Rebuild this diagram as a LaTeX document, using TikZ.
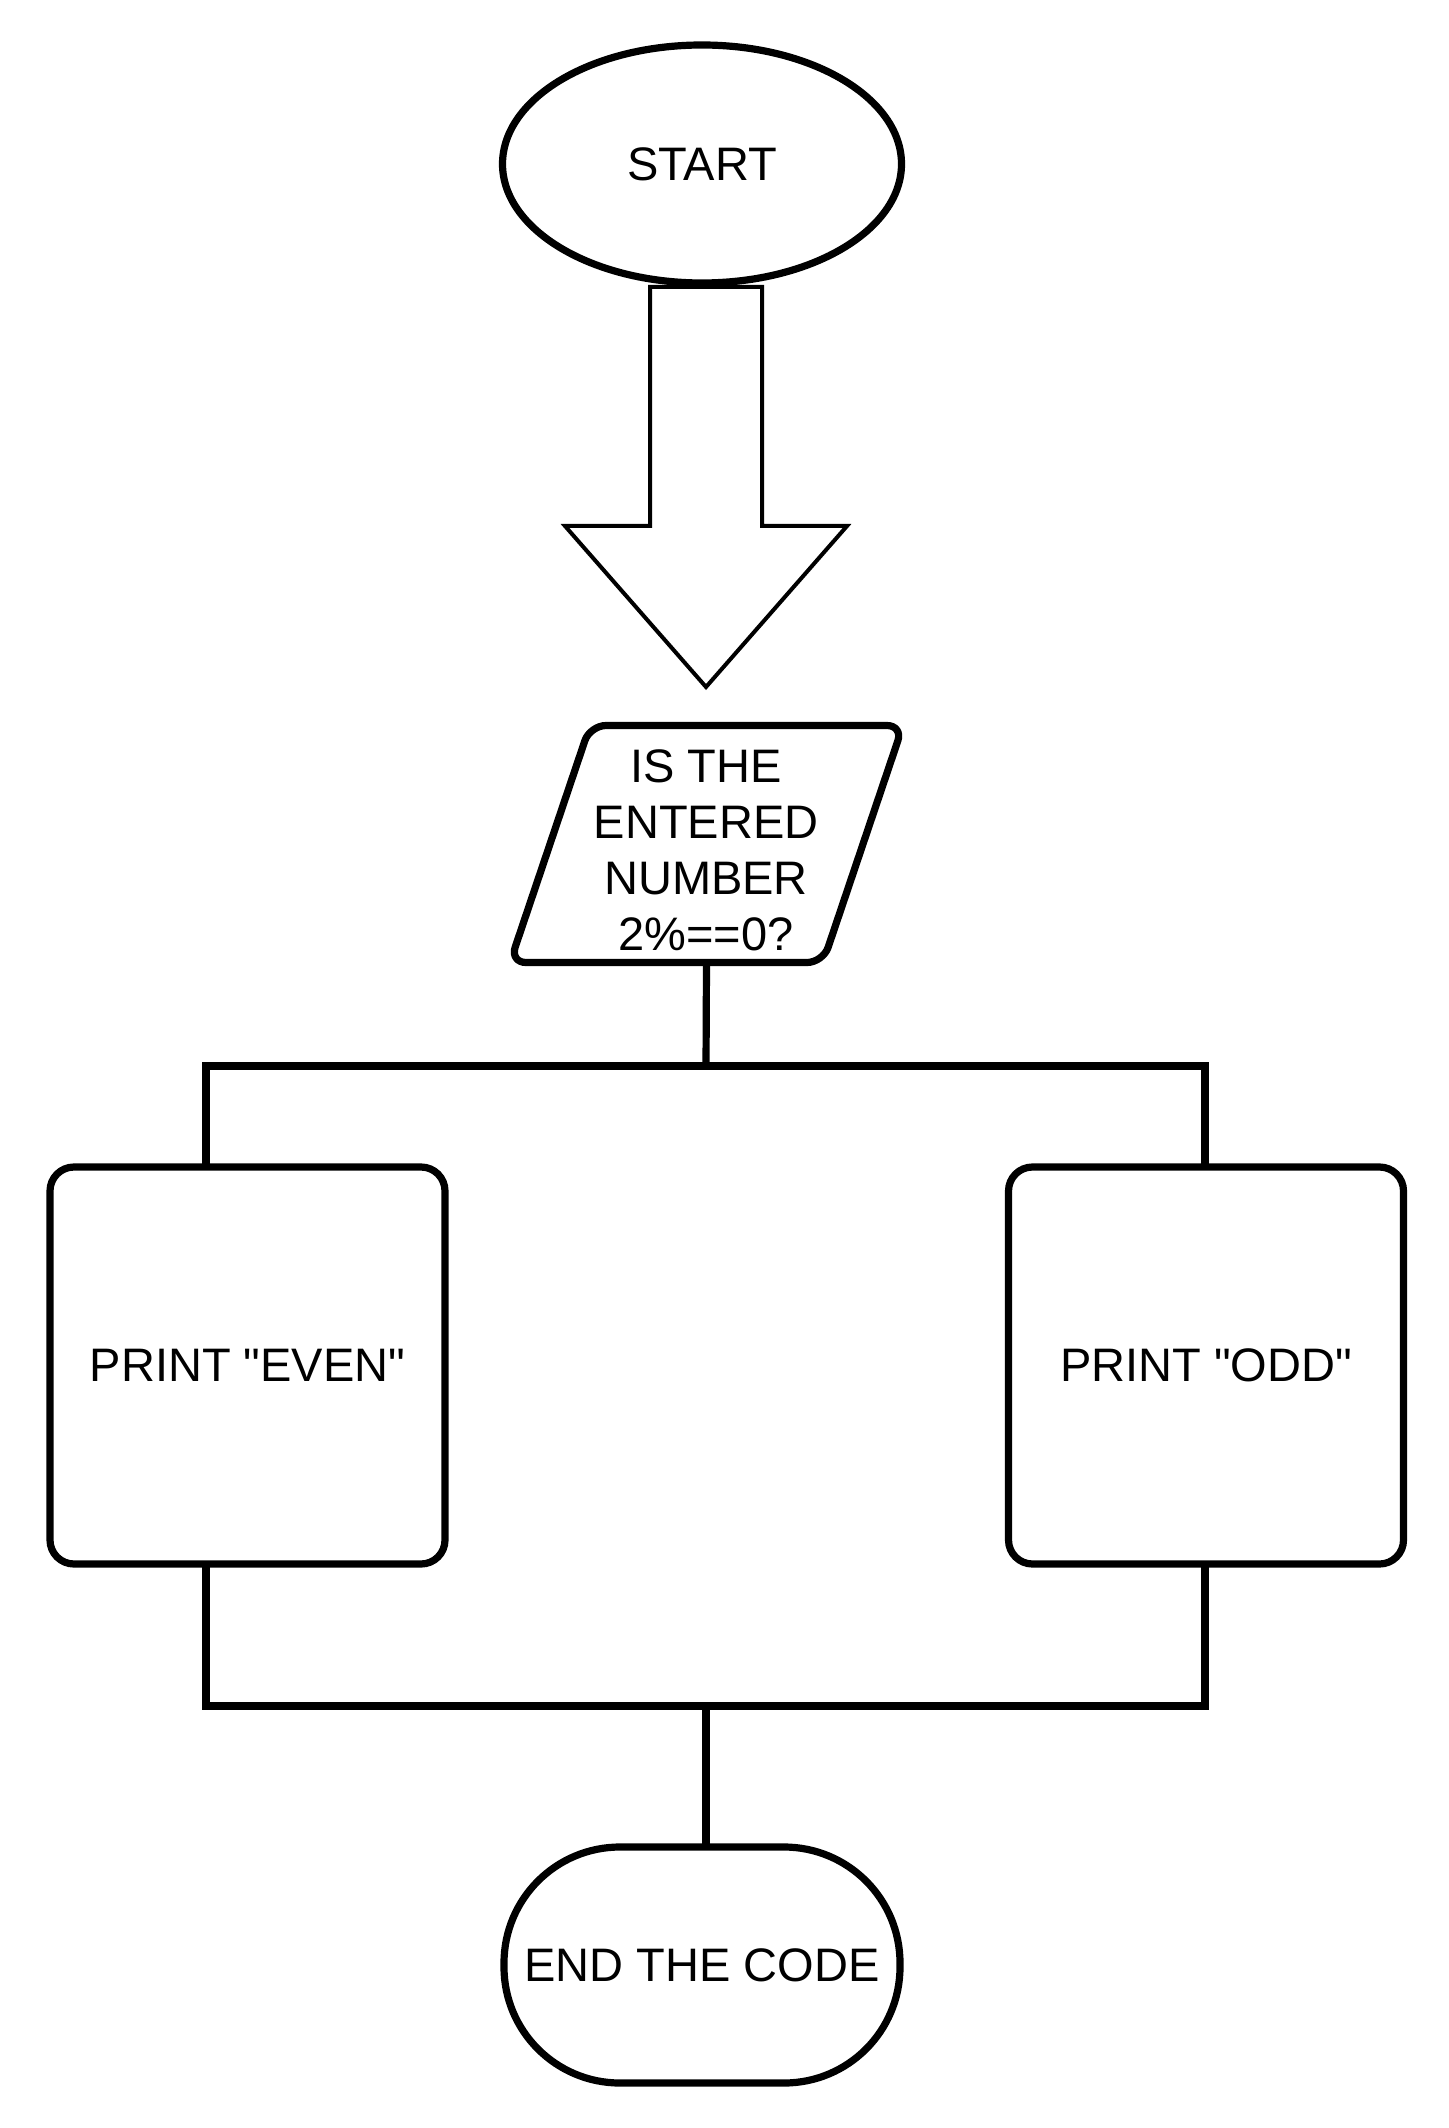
\documentclass[tikz,border=0pt]{standalone}
\usepackage{fontspec}
\setmainfont{Liberation Sans}[Ligatures=TeXOff]
\usetikzlibrary{shapes.geometric,calc}
\begin{document}
\begin{tikzpicture}[x=0.5pt,y=-0.5pt,
  every node/.style={font=\fontsize{23.5}{28}\selectfont, inner sep=0pt, outer sep=0pt},
  shp/.style={draw=black, line width=3.6pt, fill=white},
  conn/.style={draw=black, line width=3.6pt},
  bigarrow/.style={draw=black, line width=2pt, fill=white, line join=miter},
  procbox/.style={shp, rectangle, rounded corners=12pt, minimum width=197.5pt, minimum height=198.5pt, align=center}
]
\useasboundingbox (0,0) rectangle (1448,2128);

% start
\node[shp, ellipse, minimum width=199.5pt, minimum height=119pt] (start) at (702,164) {START};

% big arrow
\coordinate (atop) at (706,287);
\draw[bigarrow] ($(atop)+(-56,0)$) -- ($(atop)+(56,0)$) -- ($(atop)+(56,239)$) -- ($(atop)+(141,239)$)
  -- ($(atop)+(0,400)$) -- ($(atop)+(-141,239)$) -- ($(atop)+(-56,239)$) -- cycle;

% decision (parallelogram)
\node[minimum width=196.5pt, minimum height=118.5pt] (decbox) at (706.5,844) {};
\draw[shp, rounded corners=8pt] (decbox.south west) -- ($(decbox.south east)+(-80,0)$) -- (decbox.north east) -- ($(decbox.north west)+(80,0)$) -- cycle;
\node[align=center] (dec) at (706,850) {IS THE\\ENTERED\\NUMBER\\2\%==0?};

% process boxes
\node[procbox] (even) at (247.5,1365.5) {PRINT "EVEN"};
\node[procbox] (odd) at (1206,1365.5) {PRINT "ODD"};

% end terminal
\node[shp, rectangle, rounded corners=58pt, minimum width=198pt, minimum height=118pt] (end) at (702,1965) {END THE CODE};

% connectors top
\coordinate (jt) at (706,1066);
\coordinate (lt) at (206,1066);
\coordinate (rt) at (1205,1066);
\draw[conn] (decbox.south) -- (jt);
\draw[conn] (lt |- even.north) -- (lt) -- (rt) -- (rt |- odd.north);

% connectors bottom
\coordinate (jb) at (706,1706);
\coordinate (lb) at (206,1706);
\coordinate (rb) at (1205,1706);
\draw[conn] (lb |- even.south) -- (lb) -- (rb) -- (rb |- odd.south);
\draw[conn] (jb) -- (jb |- end.north);
\end{tikzpicture}
\end{document}
